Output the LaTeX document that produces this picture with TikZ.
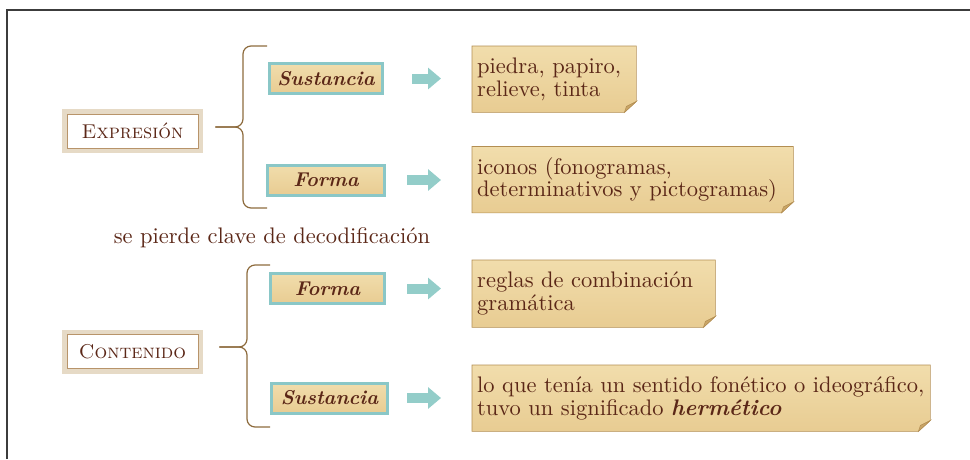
\documentclass[tikz,border=0pt]{standalone}
\usepackage{fontspec}
\setmainfont{lmroman10-regular}[Extension=.otf,
    BoldFont=lmroman10-bold, ItalicFont=lmroman10-italic,
    BoldItalicFont=lmroman10-bolditalic, SmallCapsFont=lmromancaps10-regular]
\usepackage{tikz}
\usetikzlibrary{arrows.meta,backgrounds}

\definecolor{cafe}{HTML}{5B2717}
\definecolor{papiroa}{HTML}{F1DDAC}
\definecolor{papirob}{HTML}{E8CC92}
\definecolor{bordec}{HTML}{B38E52}
\definecolor{pliegue}{HTML}{C9A566}
\definecolor{turquesa}{HTML}{8AC7C7}
\definecolor{flechac}{HTML}{93CDC9}
\definecolor{beige}{HTML}{E6DAC6}
\definecolor{linea}{HTML}{B8946A}
\definecolor{llavec}{HTML}{8D6B3D}
\definecolor{marcoc}{HTML}{3C3C3C}

\begin{document}
\begin{tikzpicture}[x=1pt,y=-1pt,
    titulo/.style={draw=linea, line width=0.8pt, fill=white, text=cafe,
        minimum width=131pt, minimum height=34pt, inner sep=0pt,
        font=\fontsize{20}{22}\selectfont,
        preaction={draw=beige, line width=10pt}},
    cajita/.style={draw=turquesa, line width=3pt, top color=papiroa, bottom color=papirob,
        text=cafe, minimum width=#1, minimum height=30pt, inner sep=0pt,
        font=\fontsize{20}{22}\selectfont\bfseries\itshape},
    papel/.style={anchor=north west, text width=#1, inner xsep=5pt, minimum height=66pt,
        align=left, text=cafe, font=\fontsize{22.5}{22.5}\selectfont},
    hoja/.style={draw=bordec, line width=0.6pt, top color=papiroa, bottom color=papirob},
    doblez/.style={fill=pliegue, draw=bordec, line width=0.5pt},
    flecha/.style={draw=flechac, line width=10pt, -{Triangle[length=13pt,width=21pt]}},
    llave/.style={draw=llavec, line width=1.2pt, rounded corners=8pt}]

    \useasboundingbox (0,0) rectangle (970,459);

    % Frame
    \draw[line width=1.5pt, draw=marcoc] (7,459) -- (7,10) -- (970,10);

    % Main titles
    \node[titulo] (expr) at (132.5,131) {\textsc{Expresión}};
    \node[titulo] (cont) at (132.5,351.5) {\textsc{Contenido}};

    % Sub boxes
    \node[cajita=113pt] (s1) at (326,78.5) {Sustancia};
    \node[cajita=117pt] (f1) at (326,180) {Forma};
    \node[cajita=114pt] (f2) at (327.5,288.5) {Forma};
    \node[cajita=116pt] (s2) at (329.5,398) {Sustancia};

    % Papyrus notes
    \node[papel=154pt] (n1) at (472,46) {piedra, papiro,\\relieve, tinta};
    \node[papel=311pt] (n2) at (472,146.5) {iconos (fonogramas,\\determinativos y pictogramas)};
    \node[papel=233pt, minimum height=67pt] (n3) at (472,260) {reglas de combinación\\gramática};
    \node[papel=448pt] (n4) at (472,365) {lo que tenía un sentido fonético o ideográfico,\\tuvo un significado \textbf{\textit{hermético}}};

    \node[text=cafe, font=\fontsize{22.5}{22}\selectfont] (clave) at (272,238) {se pierde clave de decodificación};

    \begin{scope}[on background layer]
        \foreach \n in {n1,n2,n3,n4} {
            \draw[hoja] (\n.north west) -- (\n.north east) -- ([yshift=11pt]\n.south east)
                -- ([xshift=-12pt]\n.south east) -- (\n.south west) -- cycle;
            \draw[doblez] ([yshift=11pt]\n.south east) -- ([xshift=-12pt]\n.south east)
                -- ([xshift=-10pt,yshift=6pt]\n.south east) -- cycle;
        }
    \end{scope}

    % Arrows
    \foreach \a/\b/\s in {s1/n1/28pt, f1/n2/21pt, f2/n3/21pt, s2/n4/18pt}
        \draw[flecha, shorten <=\s, shorten >=31pt] (\a.east) -- (\a.east -| \b.west);

    % Braces
    \coordinate (b1) at (243,127);
    \coordinate (b1a) at (267,46);
    \coordinate (b1b) at (267,208);
    \draw[llave] (b1a) -| (b1) -- ([xshift=17pt]b1 -| expr.east);
    \draw[llave] (b1b) -| (b1) -- ([xshift=17pt]b1 -| expr.east);

    \coordinate (b2) at (247,347);
    \coordinate (b2a) at (270,265);
    \coordinate (b2b) at (270,427);
    \draw[llave] (b2a) -| (b2) -- ([xshift=21pt]b2 -| cont.east);
    \draw[llave] (b2b) -| (b2) -- ([xshift=21pt]b2 -| cont.east);
\end{tikzpicture}
\end{document}
